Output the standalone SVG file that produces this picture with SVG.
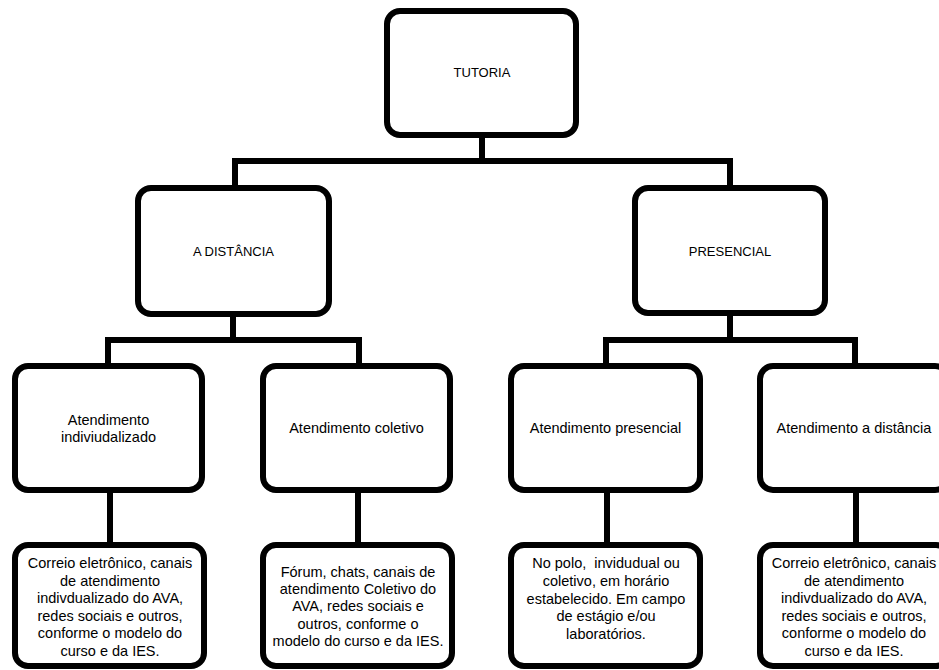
<svg xmlns="http://www.w3.org/2000/svg" width="939" height="670" viewBox="0 0 939 670">
<style>
.box{fill:#fff;stroke:#000;stroke-width:6}
.con{fill:none;stroke:#000;stroke-width:6;stroke-linecap:square}
.t1{font-family:"Liberation Sans",Arial,sans-serif;font-size:13px;fill:#000;text-anchor:middle}
.t2{font-family:"Liberation Sans",Arial,sans-serif;font-size:14.5px;fill:#000;text-anchor:middle}
</style>
<rect width="939" height="670" fill="#fff"/>
<g id="connectors">
<path class="con" d="M482 135V161M235 161H730M235 161V188M730 161V188"/>
<path class="con" d="M233 314V340M108 340H359M108 340V366M359 340V366"/>
<path class="con" d="M730 313V340M606 340H855M606 340V366M855 340V366"/>
<path class="con" d="M110 490V545M358 490V545M607 490V545M856 490V545"/>
</g>
<g id="tutoria"><rect class="box" x="387" y="11" width="189" height="124" rx="13"/><text class="t1" x="482" y="77">TUTORIA</text></g>
<g id="a-distancia"><rect class="box" x="138" y="188" width="191" height="126" rx="13"/><text class="t1" x="233.5" y="256">A DISTÂNCIA</text></g>
<g id="presencial"><rect class="box" x="635" y="188" width="190" height="125" rx="13"/><text class="t1" x="730" y="256">PRESENCIAL</text></g>
<g id="atend-individualizado"><rect class="box" x="15" y="366" width="187" height="124" rx="13"/><text class="t2" x="108.5" y="425">Atendimento</text><text class="t2" x="108.5" y="442">indiviudalizado</text></g>
<g id="atend-coletivo"><rect class="box" x="263" y="366" width="187" height="124" rx="13"/><text class="t2" x="356.5" y="433">Atendimento coletivo</text></g>
<g id="atend-presencial"><rect class="box" x="511" y="366" width="189" height="124" rx="13"/><text class="t2" x="605.5" y="433">Atendimento presencial</text></g>
<g id="atend-distancia"><rect class="box" x="760" y="366" width="188" height="124" rx="13"/><text class="t2" x="854" y="433">Atendimento a distância</text></g>
<g id="desc-individualizado"><rect class="box" x="15" y="545" width="189" height="121" rx="13"/>
<text class="t2" x="110" y="568">Correio eletrônico, canais</text>
<text class="t2" x="110" y="585.5">de atendimento</text>
<text class="t2" x="110" y="603">indivdualizado do AVA,</text>
<text class="t2" x="110" y="620.5">redes sociais e outros,</text>
<text class="t2" x="110" y="638">conforme o modelo do</text>
<text class="t2" x="110" y="655.5">curso e da IES.</text></g>
<g id="desc-coletivo"><rect class="box" x="263" y="545" width="189" height="121" rx="13"/>
<text class="t2" x="358" y="576.5">Fórum, chats, canais de</text>
<text class="t2" x="358" y="594">atendimento Coletivo do</text>
<text class="t2" x="358" y="611">AVA, redes sociais e</text>
<text class="t2" x="358" y="628.5">outros, conforme o</text>
<text class="t2" x="358" y="646">modelo do curso e da IES.</text></g>
<g id="desc-presencial"><rect class="box" x="511" y="545" width="189" height="121" rx="13"/>
<text class="t2" x="606" y="568" style="white-space:pre">No polo,  invidudual ou</text>
<text class="t2" x="606" y="586">coletivo, em horário</text>
<text class="t2" x="606" y="603.5">estabelecido. Em campo</text>
<text class="t2" x="606" y="621">de estágio e/ou</text>
<text class="t2" x="606" y="638.5">laboratórios.</text></g>
<g id="desc-distancia"><rect class="box" x="760" y="545" width="189" height="121" rx="13"/>
<text class="t2" x="854" y="568">Correio eletrônico, canais</text>
<text class="t2" x="854" y="585.5">de atendimento</text>
<text class="t2" x="854" y="603">indivdualizado do AVA,</text>
<text class="t2" x="854" y="620.5">redes sociais e outros,</text>
<text class="t2" x="854" y="638">conforme o modelo do</text>
<text class="t2" x="854" y="655.5">curso e da IES.</text></g>
</svg>
